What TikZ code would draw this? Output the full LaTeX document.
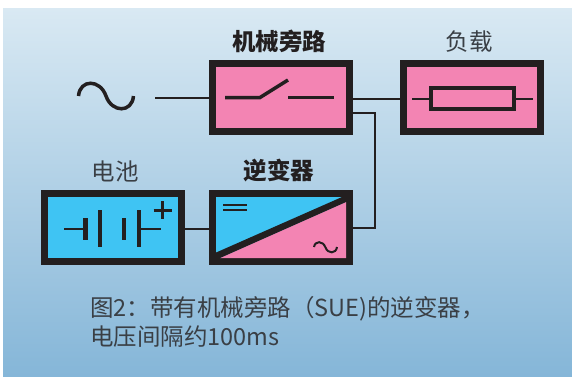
\documentclass[tikz,border=0pt]{standalone}
\usepackage{fontspec}
\setmainfont{Noto Sans CJK SC}
\usetikzlibrary{positioning}
\definecolor{inkblack}{HTML}{231F20}
\definecolor{boxpink}{HTML}{F384B3}
\definecolor{boxblue}{HTML}{3FC4F3}
\definecolor{bgtop}{HTML}{D9E9F3}
\definecolor{bgbottom}{HTML}{85B6D8}
\definecolor{textgray}{HTML}{3A3F45}

\begin{document}
\begin{tikzpicture}[
    x=1pt,y=-1pt,
    block/.style={
        draw=inkblack,
        line width=7pt,
        minimum width=137pt,
        minimum height=68pt,
    },
    pinkblock/.style={block,fill=boxpink},
    blueblock/.style={block,fill=boxblue},
    wire/.style={draw=inkblack,line width=2pt},
    symbol/.style={draw=inkblack,line width=3.5pt},
    thinsym/.style={draw=inkblack,line width=2pt},
    title/.style={
        font=\fontsize{23.5}{25}\selectfont,
        text=textgray,
        inner sep=0pt,
    },
    boldtitle/.style={title,font=\fontsize{23.5}{25}\selectfont\bfseries,text=inkblack},
]
    \useasboundingbox (0,0) rectangle (572,376);
    \shade[top color=bgtop,bottom color=bgbottom] (3,8) rectangle (572,376);

    % ~~~ blocks ~~~~~~~~~~~~
    \node[pinkblock] (bypass) at (281,97.5) {};
    \node[pinkblock,right=47pt of bypass] (load) {};
    \node[blueblock,below=55pt of bypass] (inverter) {};
    \node[blueblock,left=24pt of inverter] (battery) {};

    % ~~~ titles ~~~~~~~~~~~~
    \node[boldtitle,above=7pt of bypass,xshift=-2pt] (bypasstitle) {机械旁路};
    \node[title,above=7pt of load,xshift=-3pt] (loadtitle) {负载};
    \node[boldtitle,above=8pt of inverter,xshift=-2pt] (invertertitle) {逆变器};
    \node[title,above=8pt of battery,xshift=2pt] (batterytitle) {电池};

    % ~~~ connectors ~~~~~~~~~
    \coordinate (acin) at (155,97.5);
    \draw[wire] (acin) -- (acin -| bypass.west);
    \draw[wire] ([yshift=-1.5pt]bypass.east) -- ([yshift=-1.5pt]load.west);
    \draw[wire] ([yshift=-15pt]bypass.east) -| (375,228) -- (inverter.east |- 0,228);
    \draw[wire] ([yshift=-1.5pt]battery.east) -- ([yshift=-1.5pt]inverter.west);

    % ~~~ source ~~~~~~~~~~~~
    \draw[symbol,line width=3.5pt] (78.5,96) .. controls (80,79) and (100,79) .. (106,96)
        .. controls (112,113) and (132,113) .. (133.5,96);

    % ~~~ switch ~~~~~~~~~~~~
    \draw[symbol] (225,97.5) -- (260,97.5) -- (288,80);
    \draw[symbol] (288,97.5) -- (334,97.5);

    % ~~~ resistor ~~~~~~~~~~
    \draw[thinsym] (412,99) -- (429,99);
    \draw[thinsym] (516,99) -- (533,99);
    \draw[symbol,line width=4pt] (431,88) rectangle (514,109);

    % ~~~ cells ~~~~~~~~~~~~~
    \draw[thinsym] (64,229) -- (85,229);
    \draw[thinsym] (139,229) -- (161,229);
    \draw[symbol,line width=4.5pt] (85.3,218) -- (85.3,240);
    \draw[symbol,line width=4.5pt] (100,210) -- (100,247);
    \draw[symbol,line width=4.5pt] (124,218) -- (124,240);
    \draw[symbol,line width=4.5pt] (139,210) -- (139,247);
    \draw[symbol,line width=3pt] (153.5,210) -- (171.5,210);
    \draw[symbol,line width=3pt] (162.5,201) -- (162.5,219);

    % ~~~ inverter split ~~~~
    \fill[boxpink] (220,258) -- (346,202) -- (346,258) -- cycle;
    \fill[inkblack] (215,253) -- (342,197) -- (349,197) -- (346,202) -- (220,258) -- (215,258) -- cycle;
    \draw[thinsym] (223,205) -- (247,205);
    \draw[thinsym] (223,210) -- (247,210);
    \draw[thinsym] (314,247) .. controls (315,240.5) and (323,240.5) .. (325.5,247.5)
        .. controls (328,254) and (336,254) .. (337,247);

    % ~~~ caption ~~~~~~~~~~~
    \node[anchor=west,align=left,inner sep=0pt,text=textgray,
          font=\fontsize{23.5}{28.5}\selectfont] (caption) at (90,322)
        {图2：带有机械旁路（SUE)的逆变器，\\电压间隔约100ms};
\end{tikzpicture}
\end{document}
